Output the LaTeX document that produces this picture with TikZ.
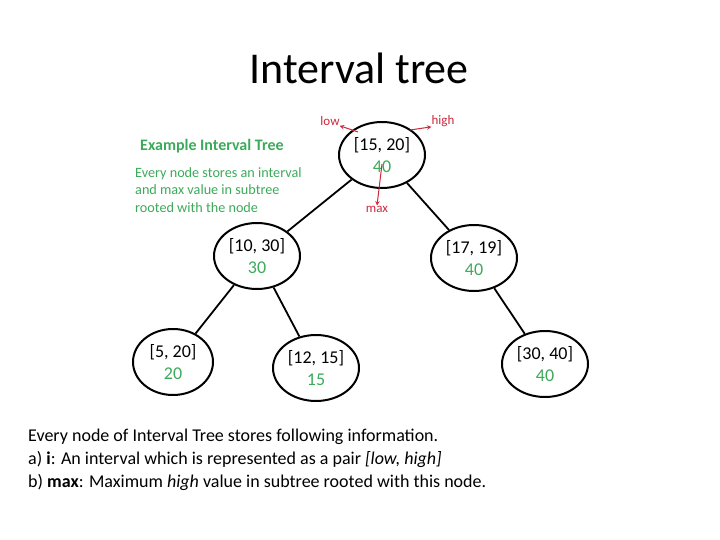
\documentclass[tikz,border=0pt]{standalone}
\usepackage{fontspec}
\setmainfont{Carlito}
\usetikzlibrary{shapes.geometric}
\definecolor{valgreen}{RGB}{60,170,90}
\definecolor{notered}{RGB}{205,40,60}
\begin{document}
\begin{tikzpicture}
[x=1pt, y=-1pt, every node/.style={inner sep=0pt},
 tnode/.style={ellipse, draw=black, line width=2pt, minimum width=86pt, minimum height=66pt, align=center, font=\fontsize{18}{22}\selectfont},
 edge/.style={line width=1.8pt, black},
 note/.style={notered, font=\fontsize{13}{15}\selectfont},
 pointer/.style={notered, line width=1pt, ->, >=stealth}]
\useasboundingbox (0,0) rectangle (720,540);
\node (title) [font=\fontsize{44}{50}\selectfont] at (359,68) {Interval tree};
% tree nodes
\node (n1520) [tnode] at (382,155) {[15, 20]\\\textcolor{valgreen}{40}};
\node (n1030) [tnode] at (257,256) {[10, 30]\\\textcolor{valgreen}{30}};
\node (n1719) [tnode] at (474,258) {[17, 19]\\\textcolor{valgreen}{40}};
\node (n520) [tnode, minimum width=80pt] at (173,362) {[5, 20]\\\textcolor{valgreen}{20}};
\node (n1215) [tnode] at (316,368) {[12, 15]\\\textcolor{valgreen}{15}};
\node (n3040) [tnode] at (545,364) {[30, 40]\\\textcolor{valgreen}{40}};
\draw [edge] (n1520) -- (n1030);
\draw [edge] (n1520) -- (n1719);
\draw [edge] (n1030) -- (n520);
\draw [edge] (n1030) -- (n1215);
\draw [edge] (n1719) -- (n3040);
% pointers
\node (low) [note] at (330,121) {low};
\node (high) [note] at (443,121) {high};
\node (max) [note] at (377,209) {max};
\coordinate (lowstart) at (358,132);
\coordinate (highstart) at (410,130);
\coordinate (maxstart) at (382,164);
\draw [pointer] (lowstart) -- (low.south east);
\draw [pointer] (highstart) -- (high.south west);
\draw [pointer] (maxstart) -- (max.north);
% legend
\node (legend) [anchor=north west, valgreen, align=left, font=\fontsize{14.2}{17.5}\selectfont] at (135,167)
  {Every node stores an interval\\and max value in subtree\\rooted with the node};
\node (legendtitle) [anchor=west, valgreen, font=\bfseries\fontsize{16}{18}\selectfont] at (140,146) {Example Interval Tree};
% caption
\node (caption) [anchor=north west, align=left, font=\fontsize{18}{23}\selectfont] at (28,429)
  {Every node of Interval Tree stores following information.\\
   a) \textbf{i}: An interval which is represented as a pair \textit{[low, high]}\\
   b) \textbf{max}: Maximum \textit{high} value in subtree rooted with this node.};
\end{tikzpicture}
\end{document}
